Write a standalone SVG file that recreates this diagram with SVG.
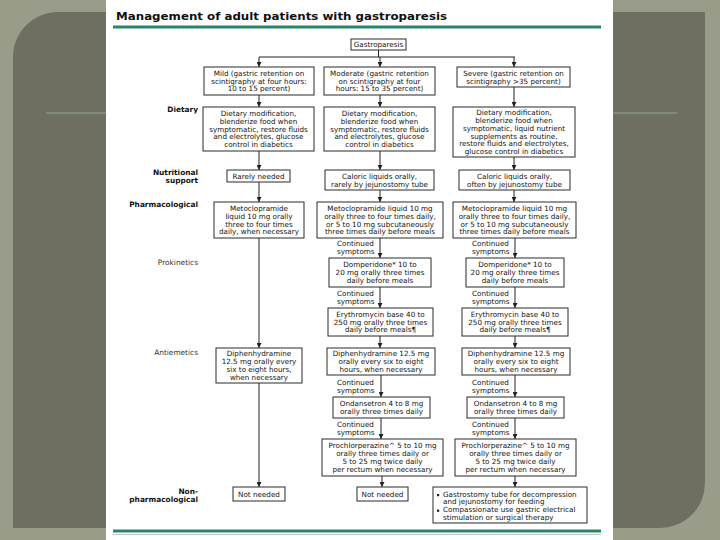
<svg xmlns="http://www.w3.org/2000/svg" width="720" height="540" viewBox="0 0 720 540">
<defs>
<style>
.t{font-family:"DejaVu Sans",Verdana,sans-serif;font-size:7.2px;fill:#111;text-anchor:middle}
.l{font-family:"DejaVu Sans",Verdana,sans-serif;font-size:7.2px;fill:#111}
.lb{font-family:"DejaVu Sans",Verdana,sans-serif;font-size:7.4px;font-weight:bold;fill:#111;text-anchor:end}
.lr{font-family:"DejaVu Sans",Verdana,sans-serif;font-size:7.4px;fill:#333;text-anchor:end}
.b{fill:#fff;stroke:#2a2a2a;stroke-width:1}
.c{stroke:#222;stroke-width:1;fill:none}
.a{stroke:#222;stroke-width:1;fill:none;marker-end:url(#ah)}
</style>
<marker id="ah" markerUnits="userSpaceOnUse" markerWidth="5" markerHeight="5" refX="5" refY="2.5" orient="auto">
<path d="M0,0 L5,2.5 L0,5 z" fill="#222"/>
</marker>
</defs>
<rect width="720" height="540" fill="#9a9c8a"/>
<path d="M13,57 A45,45 0 0 1 58,12 H705 V483 A45,45 0 0 1 660,528 H13 Z" fill="#6e6f61"/>
<line x1="46" y1="113" x2="106" y2="113" stroke="#8ea595" stroke-width="1.2"/>
<line x1="613" y1="113" x2="677" y2="113" stroke="#8ea595" stroke-width="1.2"/>
<rect x="106" y="0" width="507" height="540" fill="#fff"/>
<text x="116" y="19.5" font-family="'DejaVu Sans',Verdana,sans-serif" font-size="10.5" font-weight="bold" fill="#111" textLength="331" lengthAdjust="spacingAndGlyphs">Management of adult patients with gastroparesis</text>
<line x1="113" y1="27" x2="601" y2="27" stroke="#27856f" stroke-width="3"/>
<line x1="113" y1="531" x2="601" y2="531" stroke="#27856f" stroke-width="3"/>
<line x1="113" y1="534.5" x2="601" y2="534.5" stroke="#c4c4c4" stroke-width="1"/>

<g id="labels">
<text class="lb" x="198" y="112">Dietary</text>
<text class="lb" x="198" y="175">Nutritional</text>
<text class="lb" x="198" y="183">support</text>
<text class="lb" x="198" y="207">Pharmacological</text>
<text class="lr" x="198" y="265">Prokinetics</text>
<text class="lr" x="198" y="355">Antiemetics</text>
<text class="lb" x="198" y="494">Non-</text>
<text class="lb" x="198" y="502">pharmacological</text>
</g>

<g id="connectors">
<path class="c" d="M378.5,50 V57 M259,57 H515"/>
<line class="a" x1="259" y1="57" x2="259" y2="67"/>
<line class="a" x1="380" y1="57" x2="380" y2="67"/>
<line class="a" x1="514" y1="57" x2="514" y2="67"/>
<line class="a" x1="259" y1="95" x2="259" y2="107"/>
<line class="a" x1="380" y1="95" x2="380" y2="107"/>
<line class="a" x1="514" y1="87" x2="514" y2="107"/>
<line class="a" x1="259" y1="151" x2="259" y2="170"/>
<line class="a" x1="380" y1="151" x2="380" y2="170"/>
<line class="a" x1="514" y1="157" x2="514" y2="170"/>
<line class="a" x1="259" y1="182" x2="259" y2="202"/>
<line class="a" x1="380" y1="190" x2="380" y2="202"/>
<line class="a" x1="514" y1="190" x2="514" y2="202"/>
<line class="a" x1="259" y1="238" x2="259" y2="348"/>
<line class="a" x1="380" y1="238" x2="380" y2="258"/>
<line class="a" x1="515" y1="238" x2="515" y2="258"/>
<line class="a" x1="380" y1="287" x2="380" y2="308"/>
<line class="a" x1="515" y1="287" x2="515" y2="308"/>
<line class="a" x1="380" y1="336" x2="380" y2="348"/>
<line class="a" x1="515" y1="336" x2="515" y2="348"/>
<line class="a" x1="259" y1="383" x2="259" y2="487"/>
<line class="a" x1="381" y1="375" x2="381" y2="397"/>
<line class="a" x1="515" y1="375" x2="515" y2="397"/>
<line class="a" x1="381" y1="418" x2="381" y2="439"/>
<line class="a" x1="515" y1="418" x2="515" y2="439"/>
<line class="a" x1="382" y1="476" x2="382" y2="487"/>
<line class="a" x1="515" y1="476" x2="515" y2="487"/>
<g id="continued-labels">
<text class="l" x="337" y="245.5">Continued</text><text class="l" x="337" y="253.5">symptoms</text>
<text class="l" x="472" y="245.5">Continued</text><text class="l" x="472" y="253.5">symptoms</text>
<text class="l" x="337" y="295.5">Continued</text><text class="l" x="337" y="303.5">symptoms</text>
<text class="l" x="472" y="295.5">Continued</text><text class="l" x="472" y="303.5">symptoms</text>
<text class="l" x="337" y="384.5">Continued</text><text class="l" x="337" y="392.5">symptoms</text>
<text class="l" x="472" y="384.5">Continued</text><text class="l" x="472" y="392.5">symptoms</text>
<text class="l" x="337" y="426.5">Continued</text><text class="l" x="337" y="434.5">symptoms</text>
<text class="l" x="472" y="426.5">Continued</text><text class="l" x="472" y="434.5">symptoms</text>
</g>
</g>

<g id="gastroparesis"><rect class="b" x="351" y="39" width="55" height="11"/><text class="t" x="378.5" y="47.2">Gastroparesis</text></g>

<g id="mild"><rect class="b" x="204" y="67" width="110" height="28"/>
<text class="t" x="259" y="75.8">Mild (gastric retention on</text><text class="t" x="259" y="83.6">scintigraphy at four hours:</text><text class="t" x="259" y="91.4">10 to 15 percent)</text></g>
<g id="moderate"><rect class="b" x="324" y="67" width="111" height="28"/>
<text class="t" x="379.5" y="75.8">Moderate (gastric retention</text><text class="t" x="379.5" y="83.6">on scintigraphy at four</text><text class="t" x="379.5" y="91.4">hours: 15 to 35 percent)</text></g>
<g id="severe"><rect class="b" x="457" y="67" width="113" height="20"/>
<text class="t" x="513.5" y="75.7">Severe (gastric retention on</text><text class="t" x="513.5" y="83.5">scintigraphy &gt;35 percent)</text></g>

<g id="dietary-mild"><rect class="b" x="203" y="107" width="111" height="44"/>
<text class="t" x="258.5" y="116">Dietary modification,</text><text class="t" x="258.5" y="123.8">blenderize food when</text><text class="t" x="258.5" y="131.6">symptomatic, restore fluids</text><text class="t" x="258.5" y="139.4">and electrolytes, glucose</text><text class="t" x="258.5" y="147.2">control in diabetics</text></g>
<g id="dietary-moderate"><rect class="b" x="324" y="107" width="111" height="44"/>
<text class="t" x="379.5" y="116">Dietary modification,</text><text class="t" x="379.5" y="123.8">blenderize food when</text><text class="t" x="379.5" y="131.6">symptomatic, restore fluids</text><text class="t" x="379.5" y="139.4">and electrolytes, glucose</text><text class="t" x="379.5" y="147.2">control in diabetics</text></g>
<g id="dietary-severe"><rect class="b" x="453" y="107" width="122" height="50"/>
<text class="t" x="514" y="115.1">Dietary modification,</text><text class="t" x="514" y="122.9">blenderize food when</text><text class="t" x="514" y="130.7">symptomatic, liquid nutrient</text><text class="t" x="514" y="138.5">supplements as routine,</text><text class="t" x="514" y="146.3">restore fluids and electrolytes,</text><text class="t" x="514" y="154.1">glucose control in diabetics</text></g>

<g id="nutrition-mild"><rect class="b" x="227" y="170" width="63" height="12"/><text class="t" x="258.5" y="178.6">Rarely needed</text></g>
<g id="nutrition-moderate"><rect class="b" x="325" y="170" width="109" height="20"/>
<text class="t" x="379.5" y="178.7">Caloric liquids orally,</text><text class="t" x="379.5" y="186.5">rarely by jejunostomy tube</text></g>
<g id="nutrition-severe"><rect class="b" x="459" y="170" width="111" height="20"/>
<text class="t" x="514.5" y="178.7">Caloric liquids orally,</text><text class="t" x="514.5" y="186.5">often by jejunostomy tube</text></g>

<g id="pharm-mild"><rect class="b" x="214" y="202" width="90" height="36"/>
<text class="t" x="259" y="210.9">Metoclopramide</text><text class="t" x="259" y="218.7">liquid 10 mg orally</text><text class="t" x="259" y="226.5">three to four times</text><text class="t" x="259" y="234.3">daily, when necessary</text></g>
<g id="pharm-moderate"><rect class="b" x="317" y="202" width="126" height="36"/>
<text class="t" x="380" y="210.9">Metoclopramide liquid 10 mg</text><text class="t" x="380" y="218.7">orally three to four times daily,</text><text class="t" x="380" y="226.5">or 5 to 10 mg subcutaneously</text><text class="t" x="380" y="234.3">three times daily before meals</text></g>
<g id="pharm-severe"><rect class="b" x="453" y="202" width="123" height="36"/>
<text class="t" x="514.5" y="210.9">Metoclopramide liquid 10 mg</text><text class="t" x="514.5" y="218.7">orally three to four times daily,</text><text class="t" x="514.5" y="226.5">or 5 to 10 mg subcutaneously</text><text class="t" x="514.5" y="234.3">three times daily before meals</text></g>

<g id="domperidone-moderate"><rect class="b" x="329" y="258" width="102" height="29"/>
<text class="t" x="380" y="267.3">Domperidone* 10 to</text><text class="t" x="380" y="275.1">20 mg orally three times</text><text class="t" x="380" y="282.9">daily before meals</text></g>
<g id="domperidone-severe"><rect class="b" x="466" y="258" width="98" height="29"/>
<text class="t" x="515" y="267.3">Domperidone* 10 to</text><text class="t" x="515" y="275.1">20 mg orally three times</text><text class="t" x="515" y="282.9">daily before meals</text></g>

<g id="erythromycin-moderate"><rect class="b" x="328" y="308" width="105" height="28"/>
<text class="t" x="380.5" y="316.8">Erythromycin base 40 to</text><text class="t" x="380.5" y="324.6">250 mg orally three times</text><text class="t" x="380.5" y="332.4">daily before meals¶</text></g>
<g id="erythromycin-severe"><rect class="b" x="462" y="308" width="106" height="28"/>
<text class="t" x="515" y="316.8">Erythromycin base 40 to</text><text class="t" x="515" y="324.6">250 mg orally three times</text><text class="t" x="515" y="332.4">daily before meals¶</text></g>

<g id="diphen-mild"><rect class="b" x="216" y="348" width="86" height="35"/>
<text class="t" x="259" y="356.4">Diphenhydramine</text><text class="t" x="259" y="364.2">12.5 mg orally every</text><text class="t" x="259" y="372">six to eight hours,</text><text class="t" x="259" y="379.8">when necessary</text></g>
<g id="diphen-moderate"><rect class="b" x="327" y="348" width="108" height="27"/>
<text class="t" x="381" y="356.3">Diphenhydramine 12.5 mg</text><text class="t" x="381" y="364.1">orally every six to eight</text><text class="t" x="381" y="371.9">hours, when necessary</text></g>
<g id="diphen-severe"><rect class="b" x="462" y="348" width="108" height="27"/>
<text class="t" x="516" y="356.3">Diphenhydramine 12.5 mg</text><text class="t" x="516" y="364.1">orally every six to eight</text><text class="t" x="516" y="371.9">hours, when necessary</text></g>

<g id="ondansetron-moderate"><rect class="b" x="333" y="397" width="97" height="21"/>
<text class="t" x="381.5" y="406.2">Ondansetron 4 to 8 mg</text><text class="t" x="381.5" y="414">orally three times daily</text></g>
<g id="ondansetron-severe"><rect class="b" x="467" y="397" width="97" height="21"/>
<text class="t" x="515.5" y="406.2">Ondansetron 4 to 8 mg</text><text class="t" x="515.5" y="414">orally three times daily</text></g>

<g id="prochlor-moderate"><rect class="b" x="322" y="439" width="121" height="37"/>
<text class="t" x="382.5" y="448.4">Prochlorperazine^ 5 to 10 mg</text><text class="t" x="382.5" y="456.2">orally three times daily or</text><text class="t" x="382.5" y="464">5 to 25 mg twice daily</text><text class="t" x="382.5" y="471.8">per rectum when necessary</text></g>
<g id="prochlor-severe"><rect class="b" x="455" y="439" width="121" height="37"/>
<text class="t" x="515.5" y="448.4">Prochlorperazine^ 5 to 10 mg</text><text class="t" x="515.5" y="456.2">orally three times daily or</text><text class="t" x="515.5" y="464">5 to 25 mg twice daily</text><text class="t" x="515.5" y="471.8">per rectum when necessary</text></g>

<g id="nonpharm-mild"><rect class="b" x="233" y="487" width="52" height="14"/><text class="t" x="259" y="496.6">Not needed</text></g>
<g id="nonpharm-moderate"><rect class="b" x="357" y="487" width="51" height="14"/><text class="t" x="382.5" y="496.6">Not needed</text></g>
<g id="nonpharm-severe"><rect class="b" x="433" y="487" width="154" height="36"/>
<rect x="437" y="494" width="2.2" height="2.2" fill="#1e1e1e"/>
<text class="l" x="443" y="496.5">Gastrostomy tube for decompression</text>
<text class="l" x="443" y="504.3">and jejunostomy for feeding</text>
<rect x="437" y="509.6" width="2.2" height="2.2" fill="#1e1e1e"/>
<text class="l" x="443" y="512.1">Compassionate use gastric electrical</text>
<text class="l" x="443" y="519.9">stimulation or surgical therapy</text></g>
</svg>
